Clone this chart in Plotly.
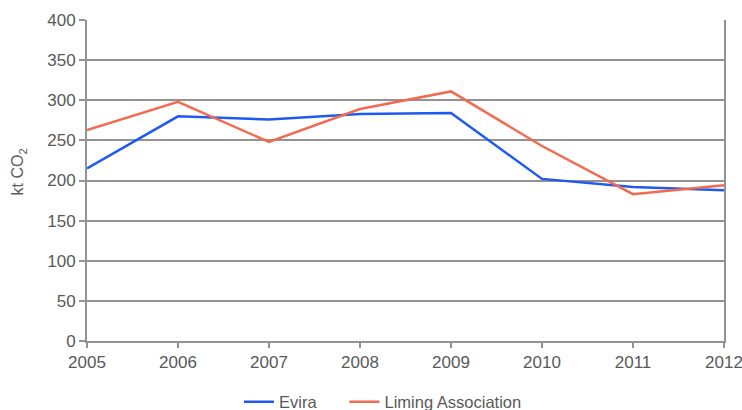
import plotly.graph_objects as go

years = [2005, 2006, 2007, 2008, 2009, 2010, 2011, 2012]
evira = [215, 280, 276, 283, 284, 202, 192, 188]
liming = [263, 298, 248, 289, 311, 243, 183, 194]
y_ticks = [0, 50, 100, 150, 200, 250, 300, 350, 400]

fig = go.Figure()
fig.add_trace(go.Scatter(x=years, y=evira, mode="lines", name="Evira" + "\u00a0" * 5,
                         line=dict(color="#1F5AF0", width=2.5)))
fig.add_trace(go.Scatter(x=years, y=liming, mode="lines", name="Liming Association",
                         line=dict(color="#F26A50", width=2.5)))

font_col = "#595959"
grid_col = "#939393"
fig.update_layout(
    width=742, height=410,
    margin=dict(l=87, r=18, t=20, b=69, autoexpand=False),
    paper_bgcolor="white", plot_bgcolor="white",
    font=dict(family="Liberation Sans, Arial, sans-serif", size=17, color=font_col),
    showlegend=True,
    legend=dict(orientation="h", x=0.2386, xanchor="left", y=-0.19, yanchor="middle",
                font=dict(size=16.5, color=font_col), tracegroupgap=0),
    xaxis=dict(range=[2005, 2012], tickmode="array", tickvals=years,
               ticktext=[str(y) for y in years], showgrid=False,
               showline=True, linecolor=grid_col, linewidth=2,
               ticks="outside", ticklen=5, tickcolor=grid_col, tickwidth=2,
               zeroline=False, fixedrange=True, ticklabeloverflow="allow"),
    yaxis=dict(range=[0, 400], tickmode="array", tickvals=y_ticks,
               showgrid=True, gridcolor=grid_col, gridwidth=2,
               showline=True, linecolor=grid_col, linewidth=2, mirror=True,
               ticks="outside", ticklen=6, tickcolor=grid_col, tickwidth=2,
               zeroline=False, fixedrange=True),
    annotations=[dict(text="kt CO<sub>2</sub>", xref="paper", yref="paper",
                      x=-0.106, y=0.5265, xanchor="center", yanchor="middle",
                      textangle=-90, showarrow=False,
                      font=dict(size=16, color=font_col))],
)
fig.write_html("out.html", config={"displayModeBar": False},
               post_script="document.body.style.margin='0';document.body.style.overflow='hidden';")
